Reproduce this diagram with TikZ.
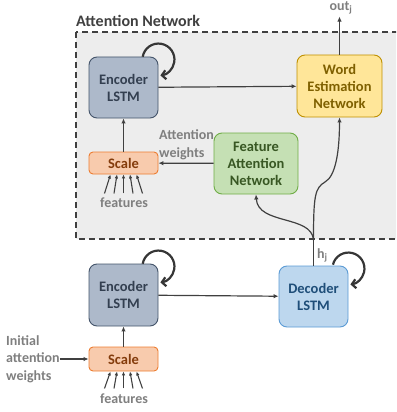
\documentclass[tikz,border=0pt]{standalone}
\usepackage{fontspec}
\setmainfont{Carlito}
\usetikzlibrary{arrows.meta}
\definecolor{encfill}{HTML}{ADB9CA}
\definecolor{encdraw}{HTML}{44546A}
\definecolor{enctext}{HTML}{333F50}
\definecolor{wordfill}{HTML}{FFE699}
\definecolor{worddraw}{HTML}{BF9000}
\definecolor{wordtext}{HTML}{7F6000}
\definecolor{featfill}{HTML}{C5E0B4}
\definecolor{featdraw}{HTML}{70AD47}
\definecolor{feattext}{HTML}{385723}
\definecolor{scalefill}{HTML}{F8CBAD}
\definecolor{scaledraw}{HTML}{ED7D31}
\definecolor{scaletext}{HTML}{843C0C}
\definecolor{decfill}{HTML}{BDD7EE}
\definecolor{decdraw}{HTML}{5B9BD5}
\definecolor{dectext}{HTML}{1F4E79}
\definecolor{lbl}{HTML}{7F7F7F}
\definecolor{ink}{HTML}{404040}
\definecolor{panel}{HTML}{EDEDED}
\begin{document}
\begin{tikzpicture}[x=1pt,y=1pt,
  boxtxt/.style={font=\fontsize{14.5}{17}\selectfont\bfseries, align=center, inner sep=0pt},
  box/.style={boxtxt, rounded corners=8pt, line width=0.9pt, minimum width=69pt, minimum height=61pt},
  encbox/.style={box, fill=encfill, draw=encdraw, text=enctext},
  wordbox/.style={box, fill=wordfill, draw=worddraw, text=wordtext, minimum width=85pt, minimum height=62pt},
  featbox/.style={box, fill=featfill, draw=featdraw, text=feattext, minimum width=84pt},
  decbox/.style={box, fill=decfill, draw=decdraw, text=dectext},
  scalebox/.style={boxtxt, rounded corners=4pt, line width=0.9pt, minimum width=69pt, minimum height=22pt, fill=scalefill, draw=scaledraw, text=scaletext},
  lab/.style={font=\fontsize{14}{17.5}\selectfont\bfseries, text=lbl, inner sep=0pt},
  conn/.style={draw=ink, line width=1.2pt, -{Latex[length=5pt,width=4.5pt]}},
  thin/.style={draw=ink, line width=1.1pt, -{Latex[length=4pt,width=3.5pt]}},
  selfloop/.style={draw=ink!85!black, line width=2.2pt, -{Straight Barb[length=4pt,width=9pt]}},
]
\useasboundingbox (0,0) rectangle (396,-412);
\clip (0,0) rectangle (396,-412);

% panel
\path[fill=panel, draw=ink, line width=1.3pt, dash pattern=on 6pt off 4pt] (76,-32) rectangle (410,-239);
\node[font=\fontsize{16}{19}\selectfont\bfseries, text=ink, anchor=west, inner sep=0pt] (title) at (76,-21) {Attention Network};

% nodes inside panel
\node[encbox] (enc1) at (123.5,-87.5) {Encoder\\LSTM};
\node[wordbox] (word) at (339.5,-86) {Word\\Estimation\\Network};
\node[scalebox] (scale1) at (123.5,-163) {Scale};
\node[featbox] (feat) at (256,-163.5) {Feature\\Attention\\Network};
\node[lab, align=left, anchor=west] (attw) at (159,-145) {Attention\\weights};
\node[lab] (feats1) at (124,-203) {features};
\node[lab, anchor=north] (outj) at (341,-1.5) {out\textsubscript{j}};

% nodes below
\node[encbox, minimum height=62pt] (enc2) at (123.5,-295) {Encoder\\LSTM};
\node[decbox] (dec) at (313.5,-296.5) {Decoder\\LSTM};
\node[scalebox, minimum height=24pt] (scale2) at (123.5,-359) {Scale};
\node[lab] (feats2) at (124,-399) {features};
\node[lab, align=left, anchor=west] (init) at (6,-359) {Initial\\attention\\weights};
\node[lab, anchor=west] (hj) at (317,-255) {h\textsubscript{j}};

\coordinate (split) at (313.5,-240);

% connectors
\draw[conn] (enc1) -- (word);
\draw[conn] (scale1) -- (enc1);
\draw[conn] (feat) -- (scale1);
\draw[conn] (word.north) -- ([yshift=-2pt]outj.south -| word.north);
\draw[conn] (enc2) -- (dec);
\draw[conn] (scale2) -- (enc2);
\draw[conn] (init.east) -- (scale2.west);
\draw[draw=ink, line width=1.2pt] (dec.north) -- (split);
\draw[conn] (split) .. controls (313.5,-195) and (315,-188) .. (325,-182)
   .. controls (336,-176) and (339.5,-150) .. (word.south);
\draw[conn] (split) .. controls (312,-215) and (258,-225) .. (feat.south);

% feature arrows
\foreach \k in {-2,-1,0,1,2} {
  \draw[thin] ([xshift=\k*9.5pt, yshift=-19pt]scale1.south) -- ([xshift=\k*6.5pt]scale1.south);
  \draw[thin] ([xshift=\k*9.5pt, yshift=-17pt]scale2.south) -- ([xshift=\k*6.5pt]scale2.south);
}

% self loops
\draw[selfloop] ([yshift=-3pt]enc1.north east) ++(170:16) arc[start angle=170, end angle=-83, radius=16];
\draw[selfloop] ([yshift=-3pt]enc2.north east) ++(170:16) arc[start angle=170, end angle=-83, radius=16];
\draw[selfloop] ([yshift=-3pt]dec.north east) ++(166:16) arc[start angle=166, end angle=-83, radius=16];
\end{tikzpicture}
\end{document}
